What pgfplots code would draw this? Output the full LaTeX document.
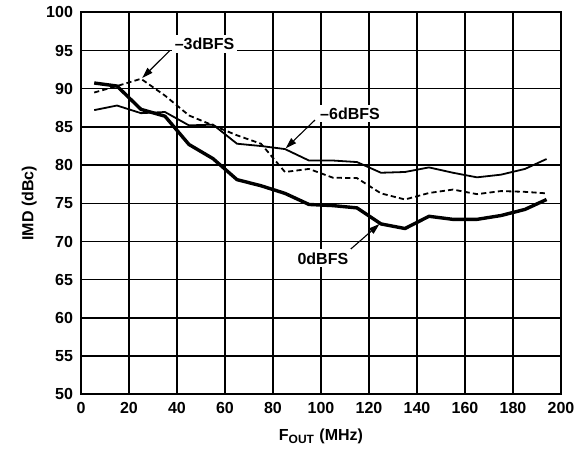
\documentclass[border=0pt]{standalone}
\usepackage{fontspec}
\setmainfont{Liberation Sans}
\usepackage{pgfplots}
\pgfplotsset{compat=1.18}
\usetikzlibrary{arrows.meta}

\pgfplotstableread{
x    zero   three  six
5.5  90.75  89.5   87.2
15   90.35  90.35  87.8
25   87.3   91.3   86.8
35   86.4   89.1   86.95
45   82.7   86.5   85.2
55   80.85  85.2   85.3
65   78.1   83.9   82.8
75   77.3   82.8   82.5
85   76.3   79.1   82.1
95   74.85  79.5   80.6
105  74.7   78.35  80.6
115  74.4   78.3   80.4
125  72.3   76.3   79.0
135  71.7   75.5   79.1
145  73.3   76.35  79.7
155  72.9   76.8   79.0
165  72.9   76.2   78.4
175  73.4   76.6   78.75
185  74.2   76.5   79.5
194  75.5   76.3   80.8
}\imd

\begin{document}
\begin{tikzpicture}
\begin{axis}[
  scale only axis, width=240pt, height=191pt,
  xmin=0, xmax=200, ymin=50, ymax=100,
  xtick={0,20,...,200}, ytick={50,55,...,100},
  grid=major, grid style={black, line width=0.75pt},
  axis line style={line width=1.1pt},
  major tick length=0pt,
  /pgf/number format/assume math mode=true,
  tick label style={font=\bfseries\fontsize{8}{9.6}\selectfont},
  xticklabel style={yshift=-0.5pt},
  yticklabel style={xshift=-0.5pt},
  label style={font=\bfseries\fontsize{8}{9.6}\selectfont},
  xlabel={F\textsubscript{OUT} (MHz)},
  ylabel={IMD (dBc)},
  xlabel style={at={(axis description cs:0.5,-0.11)}, anchor=center},
  ylabel style={at={(axis description cs:-0.108,0.5)}, anchor=center},
  clip=false,
]
\path (axis cs:-33.75,42.8) rectangle (axis cs:209.6,101.57);
\addplot[black, line width=1.7pt, line join=round] table[x=x, y=zero] {\imd};
\addplot[black, line width=0.9pt, dash pattern=on 2.6pt off 1.6pt] table[x=x, y=three] {\imd};
\addplot[black, line width=0.9pt, line join=round] table[x=x, y=six] {\imd};

\draw[line width=0.55pt, -{Triangle[length=5.5pt, width=3.4pt]}] (axis cs:37,95) -- (axis cs:25.5,91.4);
\draw[line width=0.55pt, -{Triangle[length=5.5pt, width=3.4pt]}] (axis cs:97.5,85.9) -- (axis cs:85.3,82.2);
\draw[line width=0.55pt, -{Triangle[length=5.5pt, width=3.4pt]}] (axis cs:112,68.9) -- (axis cs:124.4,72.3);

\node[fill=white, inner sep=1.5pt, font=\bfseries\fontsize{8}{9.6}\selectfont] at (axis cs:51.5,95.9) {--3dBFS};
\node[fill=white, inner sep=1.5pt, font=\bfseries\fontsize{8}{9.6}\selectfont] at (axis cs:112.1,86.74) {--6dBFS};
\node[fill=white, inner sep=1.5pt, font=\bfseries\fontsize{8}{9.6}\selectfont] at (axis cs:100.8,67.8) {0dBFS};
\end{axis}
\end{tikzpicture}
\end{document}
